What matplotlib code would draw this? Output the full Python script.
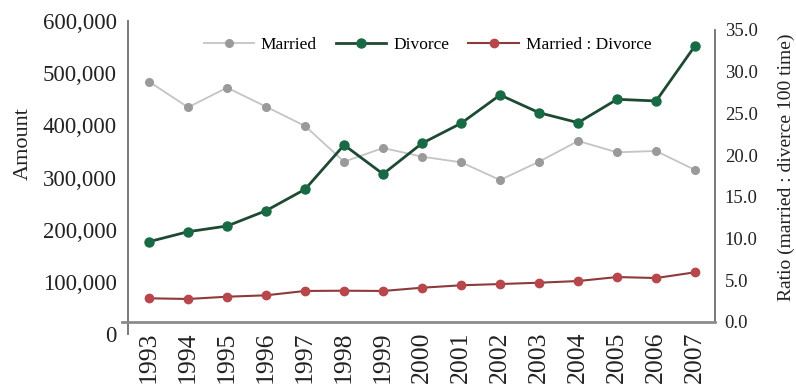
import matplotlib
matplotlib.use("Agg")
import matplotlib.pyplot as plt
from matplotlib.ticker import FuncFormatter
import numpy as np

plt.rcParams['font.family'] = ['Liberation Serif', 'DejaVu Serif']

years = [1993, 1994, 1995, 1996, 1997, 1998, 1999, 2000,
         2001, 2002, 2003, 2004, 2005, 2006, 2007]
married = [483700, 434600, 472200, 435700, 398700, 330300, 356600, 339900,
           329200, 295200, 330300, 370000, 348300, 350800, 314400]
divorce = [177000, 196100, 207000, 236400, 277400, 362300, 306700, 365600,
           403900, 458200, 424200, 405100, 449900, 446700, 552700]
ratio = [2.84, 2.76, 3.03, 3.20, 3.72, 3.75, 3.72, 4.11,
         4.40, 4.55, 4.71, 4.91, 5.39, 5.27, 5.96]

amount_ticks = [0, 100000, 200000, 300000, 400000, 500000, 600000]
ratio_ticks = [0, 5, 10, 15, 20, 25, 30, 35]

W, H = 796, 389
fig = plt.figure(figsize=(W / 100, H / 100), dpi=100)

def frac(x0, y_top, x1, y_bot):
    return [x0 / W, 1 - y_bot / H, (x1 - x0) / W, (y_bot - y_top) / H]

x = np.arange(len(years))
xlim = (-0.54, len(years) - 1 + 0.51)
spine_col = '#6e6e6e'

# Amount axis (left)
axL = fig.add_axes(frac(128, 21, 715, 334))
axL.set_xlim(*xlim)
axL.set_ylim(0, 600000)
axL.patch.set_visible(False)
for s in ['top', 'right', 'bottom']:
    axL.spines[s].set_visible(False)
axL.spines['left'].set_color(spine_col)
axL.spines['left'].set_linewidth(1.3)
axL.set_xticks([])
axL.set_yticks(amount_ticks)
axL.yaxis.set_major_formatter(FuncFormatter(lambda v, p: f"{int(v):,}"))
axL.tick_params(axis='y', length=0, pad=8, labelsize=16.5, labelcolor='#222222')
axL.set_ylabel('Amount', fontsize=16, color='#222222')
axL.yaxis.set_label_coords(-0.163, 0.61)

l1, = axL.plot(x, married, color='#c4c4c4', lw=1.3, marker='o', ms=5.5,
               mfc='#9a9a9a', mec='#9a9a9a', label='Married', zorder=3)
l2, = axL.plot(x, divorce, color='#1e4a33', lw=2.0, marker='o', ms=6.5,
               mfc='#176a44', mec='#176a44', label='Divorce', zorder=4)

# Ratio axis (right), carries the category axis
axR = fig.add_axes(frac(128, 30, 715, 322))
axR.set_xlim(*xlim)
axR.set_ylim(0, 35)
axR.patch.set_visible(False)
axR.spines['top'].set_visible(False)
axR.spines['left'].set_visible(False)
axR.spines['right'].set_color(spine_col)
axR.spines['right'].set_linewidth(1.3)
axR.spines['bottom'].set_color('#8c8c8c')
axR.spines['bottom'].set_linewidth(2.0)
axR.spines['bottom'].set_bounds(xlim[0] - 0.16, xlim[1])
axR.yaxis.tick_right()
axR.yaxis.set_label_position('right')
axR.set_yticks(ratio_ticks)
axR.yaxis.set_major_formatter(FuncFormatter(lambda v, p: f"{v:.1f}"))
axR.tick_params(axis='y', length=0, pad=7, labelsize=13.5, labelcolor='#222222')
axR.set_xticks(x)
axR.set_xticklabels([str(y) for y in years], rotation=90, fontsize=18.5,
                    color='#222222')
axR.tick_params(axis='x', length=0, pad=7)
axR.set_ylabel('Ratio (married : diverce 100 time)', fontsize=14,
               color='#222222')
axR.yaxis.set_label_coords(1.107, 0.53)

l3, = axR.plot(x, ratio, color='#8e3a3c', lw=1.5, marker='o', ms=6,
               mfc='#b8474c', mec='#b8474c', label='Married : Divorce', zorder=3)

fig.legend(handles=[l1, l2, l3], loc='center', bbox_to_anchor=(0.537, 0.884),
           ncol=3, frameon=False, fontsize=12.5, handlelength=2.9,
           handletextpad=0.4, columnspacing=1.1)

fig.savefig('out.png', dpi=100)
